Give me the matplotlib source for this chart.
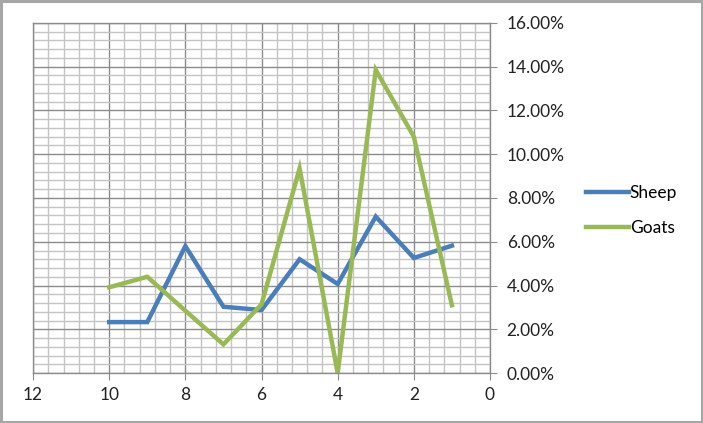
import numpy as np
import matplotlib.pyplot as plt
from matplotlib.patches import Rectangle
from matplotlib.ticker import MultipleLocator, FuncFormatter

plt.rcParams['font.family'] = ['Lato', 'DejaVu Sans']

x = [10, 9, 8, 7, 6, 5, 4, 3, 2, 1]
sheep = [2.33, 2.33, 5.8, 3.03, 2.88, 5.2, 4.07, 7.15, 5.26, 5.82]
goats = [3.92, 4.4, 2.85, 1.31, 3.14, 9.35, 0.0, 13.85, 10.8, 3.1]

fig = plt.figure(figsize=(7.03, 4.23), dpi=100)
fig.patches.append(Rectangle((0.002, 0.003), 0.996, 0.994, transform=fig.transFigure,
                             fill=False, edgecolor='#a6a6a6', linewidth=2.2))
ax = fig.add_axes([0.047, 0.118, 0.65, 0.828])

ax.plot(x, sheep, color='#4a7ebb', lw=3.2, label='Sheep', solid_joinstyle='miter')
ax.plot(x, goats, color='#98b954', lw=3.2, label='Goats', solid_joinstyle='miter')

ax.set_xlim(12, 0)
ax.set_ylim(0, 16)
ax.xaxis.set_major_locator(MultipleLocator(2))
ax.xaxis.set_minor_locator(MultipleLocator(0.4))
ax.yaxis.set_major_locator(MultipleLocator(2))
ax.yaxis.set_minor_locator(MultipleLocator(0.4))
ax.yaxis.set_major_formatter(FuncFormatter(lambda v, p: '%.2f%%' % v))
ax.yaxis.tick_right()

ax.grid(which='major', color='#8c8c8c', lw=1.0)
ax.grid(which='minor', color='#c4c4c4', lw=1.0)
ax.set_axisbelow(True)

for s in ax.spines.values():
    s.set_color('#8c8c8c')
    s.set_linewidth(1.0)

ax.tick_params(which='major', direction='out', length=5, color='#8c8c8c',
               labelsize=12.5, labelcolor='#222222', pad=5)
ax.tick_params(which='minor', length=0)
ax.tick_params(axis='y', pad=7)

ax.legend(loc='center left', bbox_to_anchor=(1.175, 0.464), frameon=False,
          fontsize=12.5, handlelength=2.5, handletextpad=0.05, labelspacing=1.1)

fig.savefig('out.png', dpi=100)
